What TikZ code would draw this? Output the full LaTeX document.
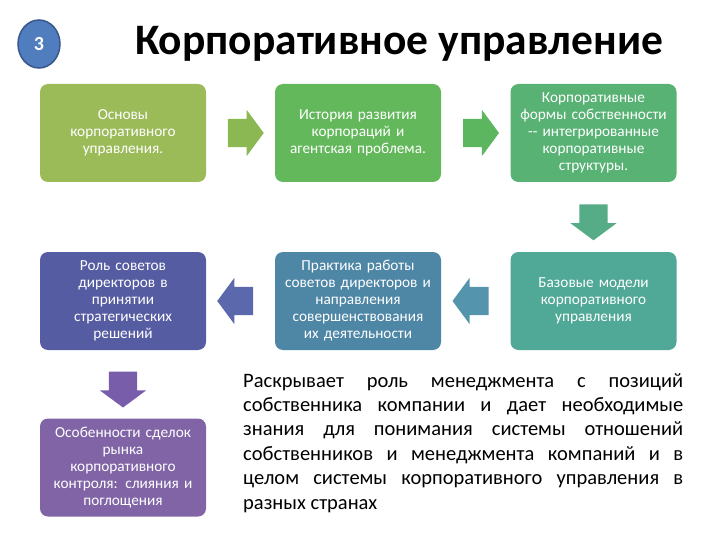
\documentclass[tikz,border=0pt]{standalone}
\usepackage{fontspec}
\setmainfont{Carlito}
\usetikzlibrary{calc}
\usetikzlibrary{shapes.arrows}
\usetikzlibrary{shapes.geometric}
\usetikzlibrary{positioning}

\definecolor{circblue}{RGB}{79,125,189}
\definecolor{circedge}{RGB}{56,88,140}
\definecolor{boxolive}{RGB}{155,187,89}
\definecolor{arrolive}{RGB}{140,184,84}
\definecolor{boxgreen}{RGB}{100,184,92}
\definecolor{arrgreen}{RGB}{92,182,96}
\definecolor{boxmint}{RGB}{88,178,116}
\definecolor{arrmint}{RGB}{86,172,134}
\definecolor{boxteal}{RGB}{80,168,150}
\definecolor{arrteal}{RGB}{84,148,172}
\definecolor{boxsteel}{RGB}{78,134,166}
\definecolor{arrslate}{RGB}{92,104,172}
\definecolor{boxslate}{RGB}{86,92,162}
\definecolor{arrviolet}{RGB}{120,94,170}
\definecolor{boxviolet}{RGB}{128,100,166}

\begin{document}
\begin{tikzpicture}[x=1pt,y=-1pt,
    blockbox/.style={rounded corners=8pt,minimum width=166pt,minimum height=98pt,
        text width=158pt,align=center,text=white,inner sep=0pt,
        font=\fontsize{15.3}{17}\selectfont},
    blockarrow/.style={single arrow,minimum height=36pt,
        inner xsep=0pt,inner ysep=14pt,
        single arrow head extend=9pt,single arrow tip angle=107},
    downarrow/.style={blockarrow,shape border rotate=270,
        inner xsep=14pt,inner ysep=0pt}]
        \useasboundingbox (0,0) rectangle (720,540);

        % heading
        \node[ellipse,fill=circblue,draw=circedge,line width=1.5pt,
            minimum width=42pt,minimum height=48pt,text=white,
            font=\bfseries\fontsize{20}{20}\selectfont] (nomer) at (39,44) {3};
        \node[anchor=base,font=\bfseries\fontsize{43.5}{48}\selectfont]
            (zagolovok) at (399,55) {Корпоративное управление};

        % blocks
        \node[blockbox,fill=boxolive] (osnovy) at (123,133)
            {Основы\\корпоративного\\управления.};
        \node[blockbox,fill=boxgreen] (istoriya) at (358,133)
            {История развития\\корпораций и\\агентская проблема.};
        \node[blockbox,fill=boxmint] (formy) at (593.5,133)
            {Корпоративные\\формы собственности\\-{}- интегрированные\\корпоративные\\структуры.};
        \node[blockbox,fill=boxteal] (modeli) at (593.5,301)
            {Базовые модели\\корпоративного\\управления};
        \node[blockbox,fill=boxsteel] (praktika) at (358,301)
            {Практика работы\\советов директоров и\\направления\\совершенствования\\их деятельности};
        \node[blockbox,fill=boxslate] (sovety) at (123,301)
            {Роль советов\\директоров в\\принятии\\стратегических\\решений};
        \node[blockbox,fill=boxviolet] (sdelki) at (123,467.5)
            {Особенности сделок\\рынка\\корпоративного\\контроля: слияния и\\поглощения};

        % block arrows between blocks
        \node[blockarrow,fill=arrolive] (strA) at ($(osnovy.east)!0.5!(istoriya.west)$) {};
        \node[blockarrow,fill=arrgreen] (strB) at ($(istoriya.east)!0.5!(formy.west)$) {};
        \node[downarrow,fill=arrmint] (strC) at ($(formy.south)!0.5!(modeli.north)$) {};
        \node[blockarrow,fill=arrteal,shape border rotate=180] (strD) at ($(modeli.west)!0.5!(praktika.east)$) {};
        \node[blockarrow,fill=arrslate,shape border rotate=180] (strE) at ($(praktika.west)!0.5!(sovety.east)$) {};
        \node[downarrow,fill=arrviolet] (strF) at ($(sovety.south)!0.5!(sdelki.north)$) {};

        % description
        \node[anchor=north west,text width=440pt,align=justify,inner sep=0pt,
            font=\fontsize{20.5}{24.4}\selectfont] (opisanie) at (243,373)
            {Раскрывает роль менеджмента с позиций\linebreak
            собственника компании и дает необходимые\linebreak
            знания для понимания системы отношений\linebreak
            собственников и менеджмента компаний и в\linebreak
            целом системы корпоративного управления в\linebreak
            разных странах};
    \end{tikzpicture}
\end{document}
